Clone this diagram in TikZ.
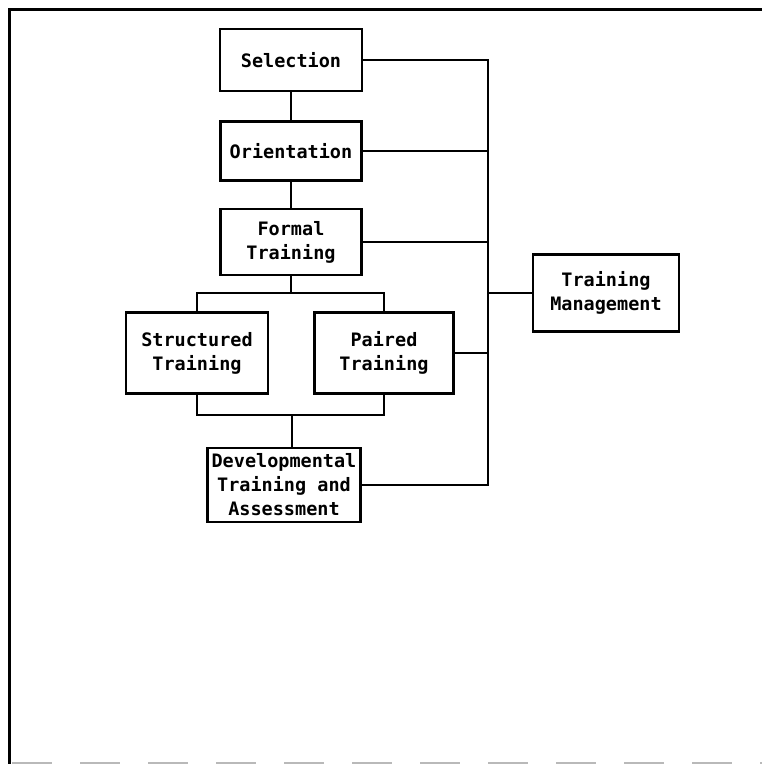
\documentclass[tikz,border=0pt]{standalone}
\usepackage{fontspec}
\newfontfamily\boxfont{DejaVu Sans Mono}[BoldFont={DejaVu Sans Mono Bold}]
\begin{document}
\begin{tikzpicture}[x=1pt,y=-1pt,
  box/.style={draw=black, line width=2.7pt, fill=white, inner sep=0pt, align=center,
    font=\boxfont\bfseries\fontsize{18.5}{24}\selectfont},
  link/.style={draw=black, line width=2.7pt},
  frame/.style={draw=black, line width=3pt}]
\useasboundingbox (0,0) rectangle (762,764);
\node[box, minimum width=142pt, minimum height=62pt] (sel) at (291,60) {Selection};
\node[box, minimum width=141pt, minimum height=59pt] (ori) at (291,151) {Orientation};
\node[box, minimum width=141pt, minimum height=66pt] (form) at (291,242) {Formal\\Training};
\node[box, minimum width=142pt, minimum height=81pt] (str) at (197,353) {Structured\\Training};
\node[box, minimum width=139pt, minimum height=81pt] (pair) at (384,353) {Paired\\Training};
\node[box, minimum width=153pt, minimum height=74pt] (dev) at (284,485) {Developmental\\Training and\\Assessment};
\node[box, minimum width=146pt, minimum height=77pt] (tm) at (606,293) {Training\\Management};
\coordinate (up) at (291,293);
\coordinate (lo) at (292,415);
\coordinate (rb) at (488,0);
% vertical chain
\draw[link] (sel.south) -- (ori.north);
\draw[link] (ori.south) -- (form.north);
\draw[link] (form.south) -- (up);
\draw[link] (str.north) -- (str.north |- up) -- (pair.north |- up) -- (pair.north);
\draw[link] (str.south) -- (str.south |- lo) -- (pair.south |- lo) -- (pair.south);
\draw[link] (lo) -- (lo |- dev.north);
% right bus
\draw[link] (sel.east) -- (sel.east -| rb) -- (dev.east -| rb) -- (dev.east);
\draw[link] (ori.east) -- (ori.east -| rb);
\draw[link] (form.east) -- (form.east -| rb);
\draw[link] (pair.east) -- (pair.east -| rb);
\draw[link] (tm.west) -- (tm.west -| rb);
% frame
\draw[frame] (9,764) -- (9,9) -- (762,9);
\draw[gray!55, line width=1.5pt, dash pattern=on 40pt off 28pt] (12,763) -- (762,763);
\end{tikzpicture}
\end{document}
